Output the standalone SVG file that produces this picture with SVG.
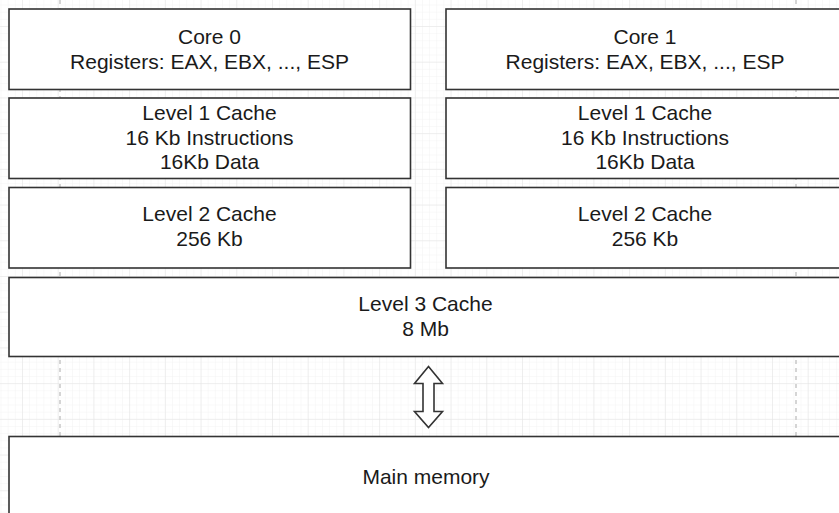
<svg xmlns="http://www.w3.org/2000/svg" width="839" height="513" viewBox="0 0 839 513">
  <defs>
    <pattern id="minor" x="22" y="26" width="7.1429" height="7.1429" patternUnits="userSpaceOnUse">
      <path d="M0 0V7.1429M0 0H7.1429" fill="none" stroke="#f3f3f3" stroke-width="1"/>
    </pattern>
    <pattern id="major" x="22" y="26" width="35.714" height="35.714" patternUnits="userSpaceOnUse">
      <path d="M0 0V35.714M0 0H35.714" fill="none" stroke="#e4e4e4" stroke-width="1"/>
    </pattern>
    <style>
      .box { fill: #ffffff; stroke: #333333; stroke-width: 1.6; }
      .t { font-family: "Liberation Sans", Arial, sans-serif; font-size: 21px; fill: #1a1a1a; text-anchor: middle; }
      .guide { stroke: #c8c8c8; stroke-width: 1.5; stroke-dasharray: 4 4; fill: none; }
    </style>
  </defs>
  <rect width="839" height="513" fill="#ffffff"/>
  <rect width="839" height="513" fill="url(#minor)"/>
  <rect width="839" height="513" fill="url(#major)"/>
  <g id="guides">
    <line class="guide" x1="60" y1="0" x2="60" y2="513"/>
    <line class="guide" x1="796" y1="0" x2="796" y2="513"/>
  </g>
  <g id="core0">
    <rect class="box" x="9" y="9" width="401.5" height="80.5"/>
    <text class="t" x="209.5" y="44">Core 0</text>
    <text class="t" x="209.5" y="69">Registers: EAX, EBX, ..., ESP</text>
  </g>
  <g id="core1">
    <rect class="box" x="446" y="9" width="401.5" height="80.5"/>
    <text class="t" x="645" y="44">Core 1</text>
    <text class="t" x="645" y="69">Registers: EAX, EBX, ..., ESP</text>
  </g>
  <g id="l1-0">
    <rect class="box" x="9" y="98" width="401.5" height="80.5"/>
    <text class="t" x="209.5" y="120">Level 1 Cache</text>
    <text class="t" x="209.5" y="145">16 Kb Instructions</text>
    <text class="t" x="209.5" y="169">16Kb Data</text>
  </g>
  <g id="l1-1">
    <rect class="box" x="446" y="98" width="401.5" height="80.5"/>
    <text class="t" x="645" y="120">Level 1 Cache</text>
    <text class="t" x="645" y="145">16 Kb Instructions</text>
    <text class="t" x="645" y="169">16Kb Data</text>
  </g>
  <g id="l2-0">
    <rect class="box" x="9" y="187.5" width="401.5" height="80.5"/>
    <text class="t" x="209.5" y="221">Level 2 Cache</text>
    <text class="t" x="209.5" y="246">256 Kb</text>
  </g>
  <g id="l2-1">
    <rect class="box" x="446" y="187.5" width="401.5" height="80.5"/>
    <text class="t" x="645" y="221">Level 2 Cache</text>
    <text class="t" x="645" y="246">256 Kb</text>
  </g>
  <g id="l3">
    <rect class="box" x="9" y="277.5" width="834" height="79"/>
    <text class="t" x="425.5" y="311">Level 3 Cache</text>
    <text class="t" x="425.5" y="336">8 Mb</text>
  </g>
  <g id="connectors">
    <path d="M428.5 366.5 L442.5 383.5 L434 383.5 L434 411.5 L442.5 411.5 L428.5 427.5 L414.5 411.5 L423 411.5 L423 383.5 L414.5 383.5 Z" fill="#ffffff" stroke="#333333" stroke-width="1.6" stroke-linejoin="miter"/>
  </g>
  <g id="main-memory">
    <rect class="box" x="9" y="436.5" width="834" height="90"/>
    <text class="t" x="426" y="484">Main memory</text>
  </g>
</svg>
